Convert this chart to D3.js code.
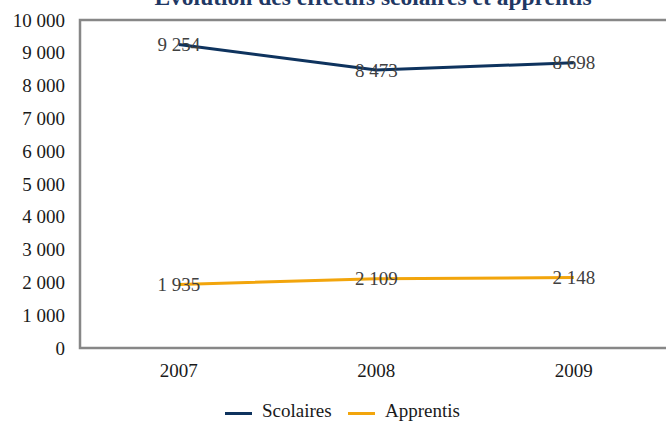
<!DOCTYPE html>
<html>
<head>
<meta charset="utf-8">
<script src="https://cdn.jsdelivr.net/npm/d3@7"></script>
<style>
  html, body { margin: 0; padding: 0; background: #fff; }
  svg { display: block; }
</style>
</head>
<body>
<svg id="chart" width="666" height="422" font-family="Liberation Serif"></svg>
<script>
const years = ["2007", "2008", "2009"];
const scolaires = [9254, 8473, 8698];
const apprentis = [1935, 2109, 2148];
const yTicks = [0, 1000, 2000, 3000, 4000, 5000, 6000, 7000, 8000, 9000, 10000];
const seriesNames = ["Scolaires", "Apprentis"];
const seriesColors = ["#0E335E", "#F2A50C"];
const title = "Évolution des effectifs scolaires et apprentis";

const FONT = "Liberation Serif";
const svg = d3.select("#chart");
const pLeft = 80, pRight = 672.5, pTop = 20, pBottom = 348;

const x = d3.scaleBand().domain(years).range([pLeft, pRight]);
const y = d3.scaleLinear().domain([0, 10000]).range([pBottom, pTop]);
const fmt = v => d3.format(",")(v).replace(/,/g, "\u00a0");

// title
svg.append("text")
  .attr("x", 373).attr("y", 5)
  .attr("text-anchor", "middle")
  .attr("font-family", FONT)
  .attr("font-size", 23.5).attr("font-weight", "bold")
  .attr("fill", "#1F3864")
  .text(title);

// plot frame
svg.append("rect")
  .attr("x", pLeft).attr("y", pTop)
  .attr("width", pRight - pLeft).attr("height", pBottom - pTop)
  .attr("fill", "none").attr("stroke", "#878787").attr("stroke-width", 2.5);

// y axis labels
const yAxis = d3.axisLeft(y).tickValues(yTicks).tickFormat(fmt).tickSize(0).tickPadding(15);
const gy = svg.append("g").attr("transform", `translate(${pLeft},0)`).call(yAxis);
gy.attr("font-family", FONT);
gy.select(".domain").remove();
gy.selectAll("text").attr("font-size", 19).attr("fill", "#1a1a1a")
  .attr("font-family", FONT);

// x axis labels
const xAxis = d3.axisBottom(x).tickSize(0).tickPadding(16);
const gx = svg.append("g").attr("transform", `translate(0,${pBottom})`).call(xAxis);
gx.attr("font-family", FONT);
gx.select(".domain").remove();
gx.selectAll("text").attr("font-size", 19).attr("fill", "#1a1a1a")
  .attr("font-family", FONT);

const cx = d => x(d) + x.bandwidth() / 2;
const series = [scolaires, apprentis];
const line = d3.line().x((d, i) => cx(years[i])).y(d => y(d));

series.forEach((vals, si) => {
  svg.append("path").datum(vals)
    .attr("d", line)
    .attr("fill", "none")
    .attr("stroke", seriesColors[si])
    .attr("stroke-width", 3)
    .attr("stroke-linejoin", "round");
});

series.forEach((vals, si) => {
  svg.append("g").selectAll("text").data(vals).join("text")
    .attr("x", (d, i) => cx(years[i]))
    .attr("y", d => y(d))
    .attr("dy", "0.35em")
    .attr("text-anchor", "middle")
    .attr("font-family", FONT)
    .attr("font-size", 19)
    .attr("fill", "#404040")
    .text(d => fmt(d));
});

// legend
const legendX = [225, 348];
const legend = svg.append("g");
seriesNames.forEach((name, i) => {
  legend.append("line")
    .attr("x1", legendX[i]).attr("x2", legendX[i] + 27)
    .attr("y1", 413.5).attr("y2", 413.5)
    .attr("stroke", seriesColors[i]).attr("stroke-width", 3);
  legend.append("text")
    .attr("x", legendX[i] + 37).attr("y", 417)
    .attr("font-family", FONT)
    .attr("font-size", 19).attr("fill", "#1a1a1a")
    .text(name);
});
</script>
</body>
</html>
